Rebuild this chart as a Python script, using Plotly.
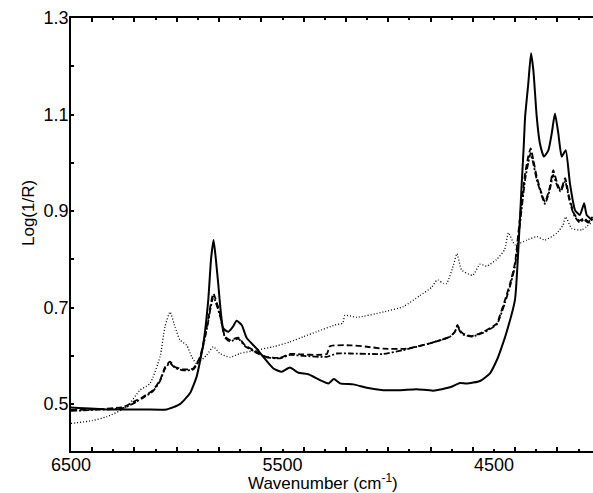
import plotly.graph_objects as go

# ---- data (wavenumber in cm-1, Log(1/R)) ----
solid_x = [6500, 6330, 6150, 6048, 5985, 5937, 5906, 5874, 5851, 5838, 5826, 5815, 5804, 5780, 5756,
           5735, 5717, 5693, 5669, 5622, 5591, 5543, 5504, 5465, 5425, 5378, 5323, 5283, 5257, 5228,
           5165, 5102, 5023, 4944, 4866, 4787, 4708, 4661, 4629, 4566, 4519, 4487, 4472, 4440, 4401,
           4385, 4369, 4360, 4353, 4338, 4325, 4314, 4298, 4283, 4264, 4243, 4227, 4212, 4196, 4180,
           4161, 4141, 4117, 4094, 4074, 4062, 4034]
solid_y = [0.493, 0.489, 0.489, 0.489, 0.500, 0.523, 0.557, 0.626, 0.716, 0.800, 0.840, 0.800, 0.750, 0.657, 0.650,
           0.660, 0.673, 0.664, 0.637, 0.615, 0.598, 0.574, 0.567, 0.576, 0.565, 0.562, 0.550, 0.543, 0.552, 0.543,
           0.541, 0.534, 0.529, 0.529, 0.531, 0.528, 0.535, 0.544, 0.543, 0.548, 0.564, 0.591, 0.608, 0.650, 0.716,
           0.820, 0.957, 1.030, 1.095, 1.164, 1.227, 1.192, 1.095, 1.040, 1.013, 1.026, 1.061, 1.102, 1.061, 1.013,
           1.026, 0.957, 0.902, 0.892, 0.916, 0.892, 0.881]

dash_x = [6500, 6400, 6254, 6190, 6160, 6112, 6079, 6055, 6032, 6008, 5969, 5922, 5890, 5858, 5827,
          5796, 5772, 5748, 5709, 5677, 5638, 5575, 5512, 5465, 5400, 5339, 5290, 5276, 5181, 5100,
          5023, 4913, 4803, 4708, 4685, 4673, 4660, 4645, 4605, 4550, 4487, 4472, 4448, 4424, 4401,
          4377, 4353, 4338, 4327, 4314, 4298, 4280, 4259, 4236, 4220, 4201, 4185, 4164, 4145, 4122,
          4097, 4074, 4054, 4034]
dash_y = [0.488, 0.489, 0.494, 0.508, 0.515, 0.529, 0.550, 0.577, 0.588, 0.577, 0.572, 0.574, 0.598, 0.660, 0.729,
          0.688, 0.640, 0.633, 0.638, 0.622, 0.612, 0.598, 0.596, 0.604, 0.603, 0.602, 0.604, 0.620, 0.622, 0.619,
          0.615, 0.615, 0.626, 0.640, 0.650, 0.664, 0.652, 0.646, 0.641, 0.650, 0.667, 0.684, 0.716, 0.750, 0.792,
          0.888, 0.978, 1.013, 1.030, 1.006, 0.971, 0.943, 0.919, 0.950, 0.985, 0.957, 0.943, 0.968, 0.930, 0.895,
          0.880, 0.885, 0.878, 0.888]

dashdot_x = [6500, 6400, 6254, 6190, 6160, 6112, 6079, 6055, 6032, 6008, 5969, 5922, 5890, 5858, 5827,
             5796, 5772, 5748, 5709, 5677, 5638, 5575, 5512, 5465, 5400, 5291, 5244, 5181, 5023, 4929,
             4803, 4708, 4685, 4673, 4660, 4645, 4605, 4550, 4487, 4472, 4448, 4424, 4401, 4377, 4353,
             4338, 4327, 4314, 4298, 4280, 4259, 4236, 4220, 4201, 4185, 4164, 4145, 4122, 4097, 4074,
             4054, 4034]
dashdot_y = [0.486, 0.488, 0.492, 0.505, 0.513, 0.527, 0.548, 0.574, 0.585, 0.575, 0.570, 0.572, 0.595, 0.655, 0.722,
             0.684, 0.638, 0.630, 0.636, 0.620, 0.610, 0.597, 0.595, 0.602, 0.600, 0.598, 0.605, 0.605, 0.604, 0.612,
             0.626, 0.640, 0.650, 0.662, 0.650, 0.644, 0.640, 0.648, 0.665, 0.680, 0.710, 0.745, 0.785, 0.875, 0.965,
             1.000, 1.020, 0.998, 0.965, 0.940, 0.915, 0.945, 0.975, 0.952, 0.940, 0.962, 0.925, 0.892, 0.877, 0.882,
             0.876, 0.885]

dot_x = [6500, 6400, 6331, 6237, 6174, 6126, 6079, 6056, 6032, 6008, 5985, 5953, 5929, 5906, 5858,
         5827, 5796, 5748, 5701, 5622, 5543, 5465, 5400, 5339, 5252, 5215, 5205, 5149, 5023, 4929,
         4850, 4795, 4771, 4763, 4740, 4724, 4692, 4675, 4653, 4601, 4566, 4535, 4487, 4450, 4432,
         4401, 4345, 4298, 4259, 4204, 4175, 4161, 4133, 4086, 4034]
dot_y = [0.460, 0.466, 0.474, 0.494, 0.529, 0.543, 0.598, 0.660, 0.691, 0.660, 0.633, 0.622, 0.598, 0.584, 0.602,
         0.619, 0.605, 0.597, 0.605, 0.612, 0.619, 0.629, 0.640, 0.650, 0.664, 0.668, 0.684, 0.680, 0.691, 0.702,
         0.725, 0.742, 0.757, 0.757, 0.750, 0.750, 0.788, 0.812, 0.778, 0.767, 0.790, 0.786, 0.800, 0.820, 0.855,
         0.830, 0.840, 0.847, 0.840, 0.854, 0.870, 0.888, 0.864, 0.861, 0.878]

x_range = [6500, 4032]
y_range = [0.403, 1.3]
x_label_vals = [6500, 5500, 4500]
x_short_ticks = list(range(6500, 4032, -200))   # odd hundreds
x_long_ticks = list(range(6400, 4032, -200))    # even hundreds
y_tick_vals = [0.5, 0.6, 0.7, 0.8, 0.9, 1.0, 1.1, 1.2, 1.3]
y_label_vals = [0.5, 0.7, 0.9, 1.1, 1.3]

FONT = "Liberation Sans, Arial, sans-serif"

fig = go.Figure()
fig.add_trace(go.Scatter(x=dot_x, y=dot_y, mode="lines",
                         line=dict(color="black", width=1.3, dash="1px,2px", shape="spline", smoothing=0.5)))
fig.add_trace(go.Scatter(x=dashdot_x, y=dashdot_y, mode="lines",
                         line=dict(color="black", width=1.8, dash="6px,2px,2px,2px", shape="spline", smoothing=0.5)))
fig.add_trace(go.Scatter(x=dash_x, y=dash_y, mode="lines",
                         line=dict(color="black", width=1.8, dash="6px,3px", shape="spline", smoothing=0.5)))
fig.add_trace(go.Scatter(x=solid_x, y=solid_y, mode="lines",
                         line=dict(color="black", width=2, shape="spline", smoothing=0.5)))

xt_text = [("%d" % v) if v in x_label_vals else " " for v in x_short_ticks]
yt_text = [("%.1f" % v) if any(abs(v - w) < 1e-9 for w in y_label_vals) else " " for v in y_tick_vals]

fig.update_layout(
    width=593, height=493,
    margin=dict(l=71, r=0, t=18, b=42),
    paper_bgcolor="white", plot_bgcolor="white",
    showlegend=False,
    font=dict(family=FONT, size=18, color="black"),
    xaxis=dict(range=x_range, tickvals=x_short_ticks, ticktext=xt_text,
               ticks="inside", ticklen=2, tickwidth=1.5, tickcolor="black",
               minor=dict(tickvals=x_long_ticks, ticks="inside", ticklen=4, tickwidth=1.5, tickcolor="black"),
               showline=True, linecolor="black", linewidth=1.5, mirror="allticks",
               showgrid=False, zeroline=False, tickfont=dict(size=18),
               ticklabelstandoff=-3, automargin=False),
    yaxis=dict(range=y_range, tickvals=y_tick_vals, ticktext=yt_text,
               ticks="inside", ticklen=3, tickwidth=1.5, tickcolor="black",
               showline=True, linecolor="black", linewidth=1.5, mirror=False,
               showgrid=False, zeroline=False, tickfont=dict(size=18),
               ticklabelstandoff=-3, automargin=False),
    annotations=[
        dict(text="Wavenumber (cm<sup>-1</sup>)", xref="paper", yref="paper",
             x=(323 - 71) / 522, y=-(482 - 451) / 433, xanchor="center", yanchor="middle",
             showarrow=False, font=dict(size=17)),
        dict(text="Log(1/R)", xref="paper", yref="paper", textangle=-90,
             x=-(71 - 28) / 522, y=(451 - 213) / 433, xanchor="center", yanchor="middle",
             showarrow=False, font=dict(size=17)),
    ],
)

fig.write_html("out.html", config={"displayModeBar": False},
               post_script="document.body.style.margin='0';document.body.style.padding='0';")
